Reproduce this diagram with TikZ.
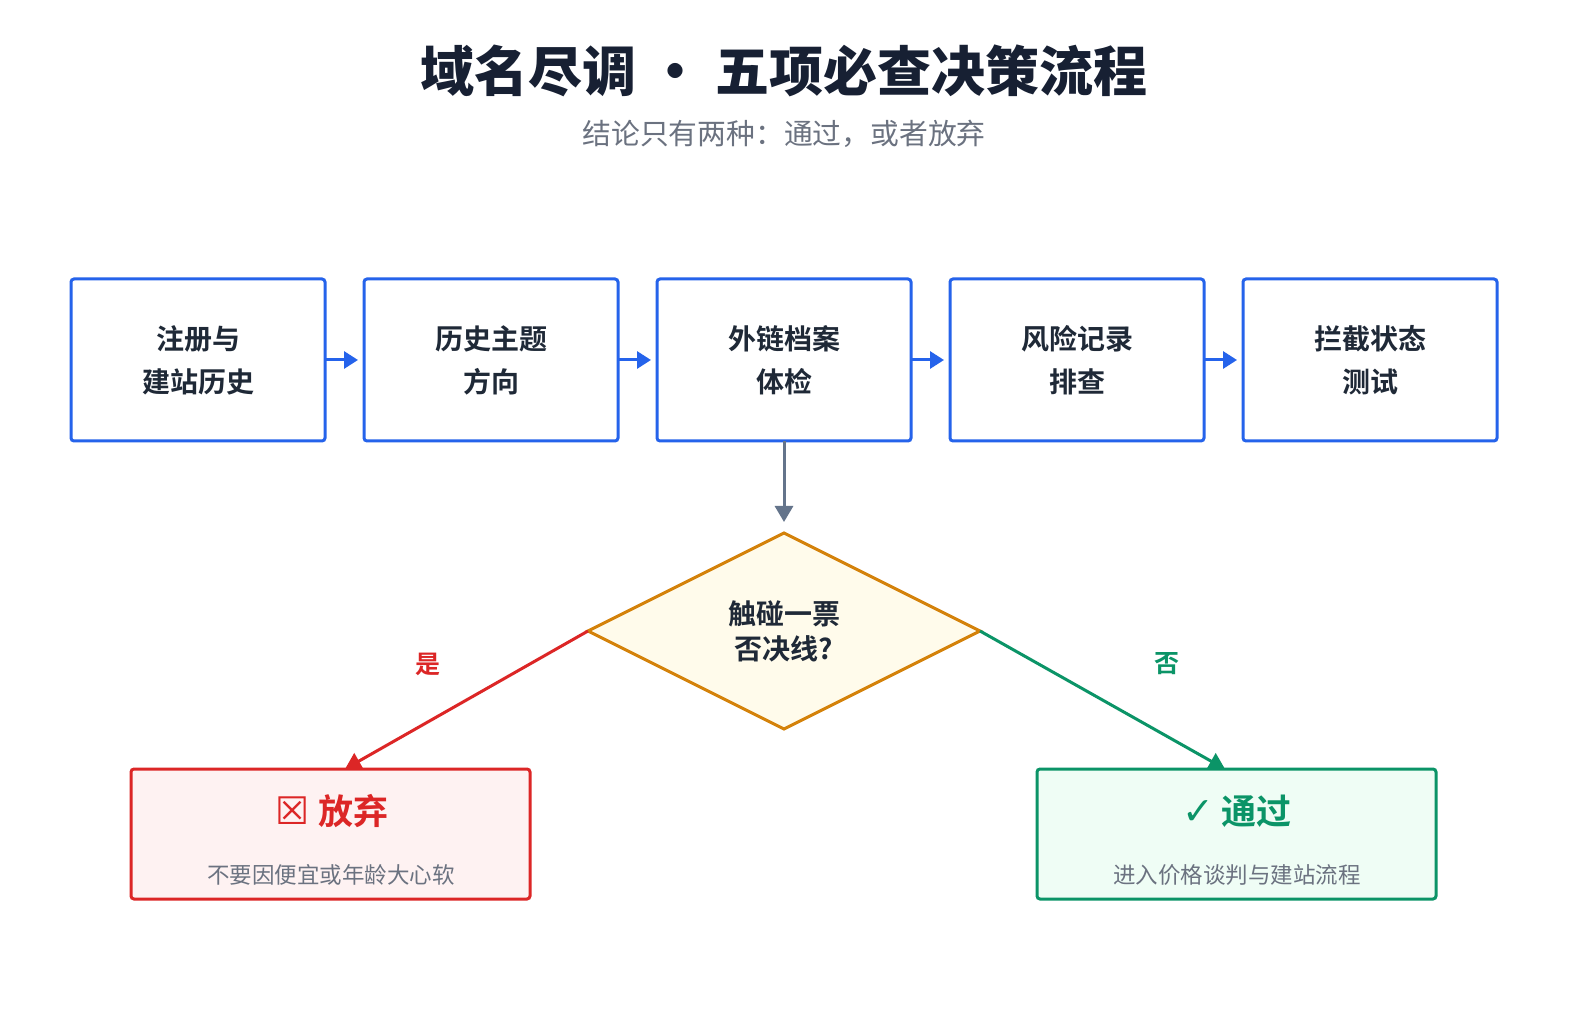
\documentclass[tikz,border=0pt]{standalone}
\usepackage{fontspec}
\setmainfont{Noto Sans CJK SC}[BoldFont=* Bold]
\newfontfamily\titlefont{Noto Sans CJK SC Black}
\newfontfamily\symfont{DejaVu Sans}
\usetikzlibrary{shapes.geometric,arrows.meta}
\definecolor{titlec}{HTML}{172033}
\definecolor{textc}{HTML}{1F2937}
\definecolor{subc}{HTML}{6B7280}
\definecolor{bluec}{HTML}{2563EB}
\definecolor{grayc}{HTML}{64748B}
\definecolor{orangec}{HTML}{D4820A}
\definecolor{dfill}{HTML}{FFFBEB}
\definecolor{redc}{HTML}{DC2626}
\definecolor{rfill}{HTML}{FEF2F2}
\definecolor{greenc}{HTML}{0B9467}
\definecolor{gfill}{HTML}{EFFDF5}
\tikzset{
  stepbox/.style={draw=bluec, line width=1.5pt, fill=white, rounded corners=1.5pt,
    minimum width=127pt, minimum height=81pt, inner sep=0pt, outer sep=0pt,
    align=center, text=textc, font=\fontsize{14}{21.5}\selectfont\bfseries},
  flowarrow/.style={draw=bluec, line width=1.5pt, -{Triangle[length=7pt,width=8.5pt]}, shorten >=3pt},
  decbox/.style={diamond, draw=orangec, line width=1.5pt, fill=dfill,
    minimum width=196pt, minimum height=98pt, inner sep=0pt, outer sep=0pt,
    align=center, text=textc, font=\fontsize{14}{17.5}\selectfont\bfseries},
  resbox/.style={draw=#1, line width=1.5pt, rounded corners=1.5pt,
    minimum width=199.5pt, minimum height=65pt, inner sep=0pt, outer sep=0pt},
  restitle/.style={text=#1, font=\fontsize{17.5}{20}\selectfont\bfseries},
  ressub/.style={text=subc, font=\fontsize{11.25}{13}\selectfont},
  branchlabel/.style={text=#1, font=\fontsize{12.5}{14}\selectfont\bfseries},
}
\begin{document}
\begin{tikzpicture}[x=0.5pt,y=-0.5pt]
\useasboundingbox[fill=white] (0,0) rectangle (1596,1010);
% title
\node[text=titlec, font=\fontsize{27}{30}\selectfont\titlefont] (title) at (784,71) {域名尽调 • 五项必查决策流程};
\node[text=subc, font=\fontsize{14.4}{17}\selectfont] (subtitle) at (784,134) {结论只有两种：通过，或者放弃};
% steps
\node[stepbox] (b1) at (198,360) {注册与\\建站历史};
\node[stepbox] (b2) at (491,360) {历史主题\\方向};
\node[stepbox] (b3) at (784,360) {外链档案\\体检};
\node[stepbox] (b4) at (1077,360) {风险记录\\排查};
\node[stepbox] (b5) at (1370,360) {拦截状态\\测试};
\draw[flowarrow] (b1.east) -- (b2.west);
\draw[flowarrow] (b2.east) -- (b3.west);
\draw[flowarrow] (b3.east) -- (b4.west);
\draw[flowarrow] (b4.east) -- (b5.west);
% decision
\node[decbox] (dec) at (784,631) {触碰一票\\否决线?};
\draw[draw=grayc, line width=1.5pt, -{Triangle[length=8pt,width=9pt]}, shorten >=5.5pt] (b3.south) -- (dec.north);
% results
\node[resbox=redc, fill=rfill] (rej) at (330.5,834) {};
\node[resbox=greenc, fill=gfill] (acc) at (1236.5,834) {};
\node[restitle=redc] (rejt) at (332,811) {{\symfont\fontsize{19}{20}\selectfont\mdseries ☒} 放弃};
\node[ressub] (rejs) at (331,875) {不要因便宜或年龄大心软};
\node[restitle=greenc] (acct) at (1237,811) {{\symfont\fontsize{19}{20}\selectfont\mdseries ✓} 通过};
\node[ressub] (accs) at (1237,875) {进入价格谈判与建站流程};
\coordinate (rtip) at (345,769);
\coordinate (gtip) at (1225,769);
\draw[draw=redc, line width=1.5pt, -{Triangle[length=8pt,width=9pt]}] (dec.west) -- (rtip);
\draw[draw=greenc, line width=1.5pt, -{Triangle[length=8pt,width=9pt]}] (dec.east) -- (gtip);
\node[branchlabel=redc] (yes) at (428,664) {是};
\node[branchlabel=greenc] (no) at (1167,664) {否};
\end{tikzpicture}
\end{document}
